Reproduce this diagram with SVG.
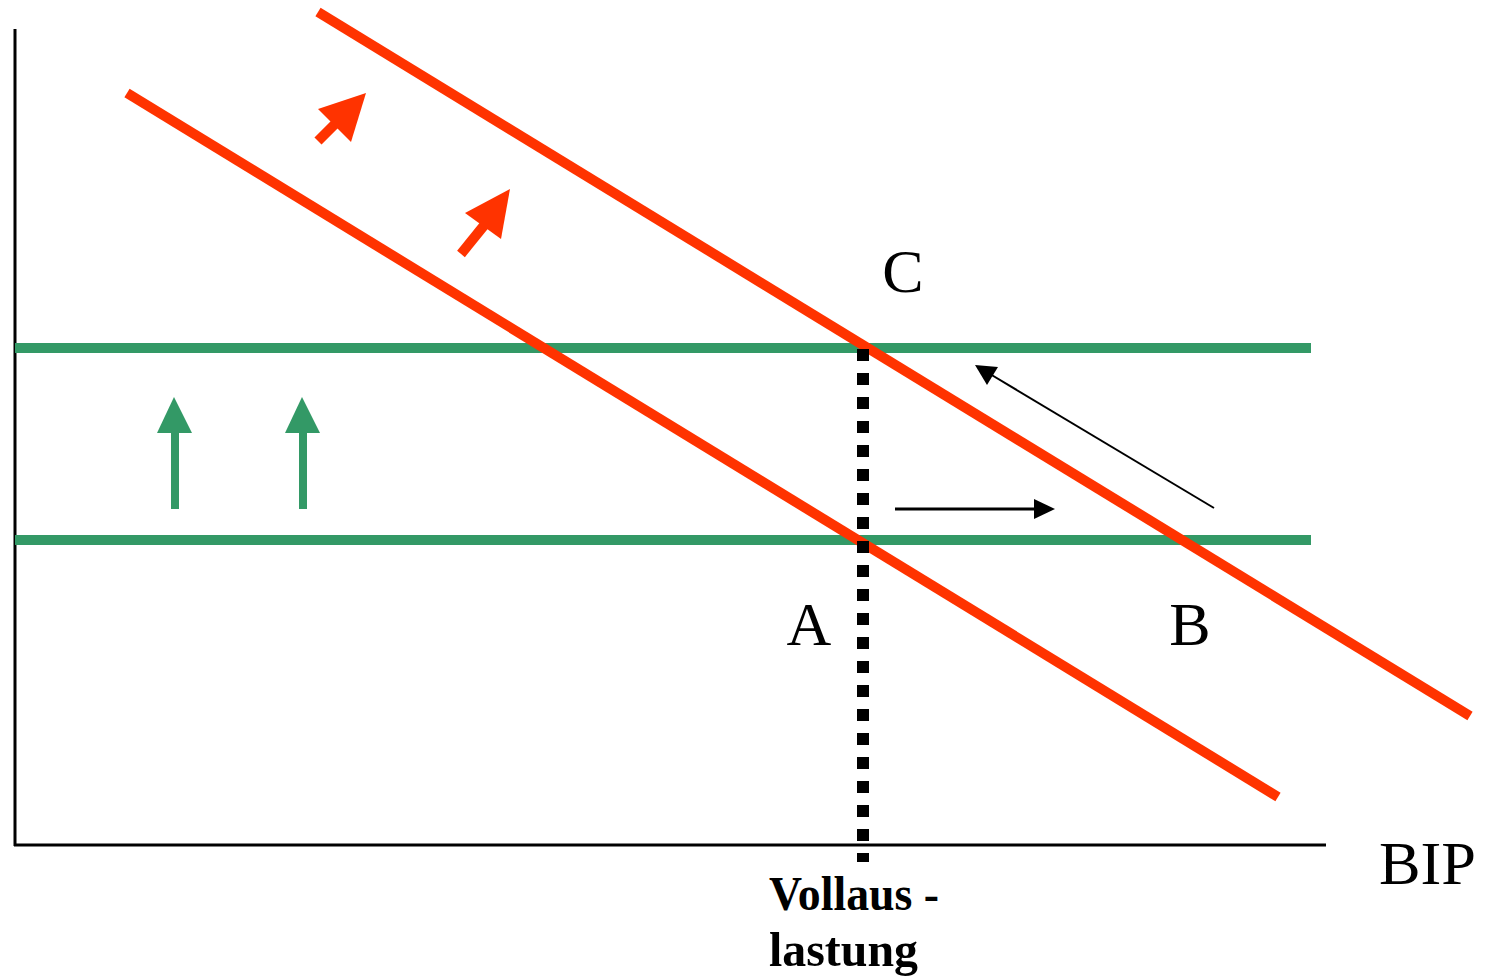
<svg xmlns="http://www.w3.org/2000/svg" width="1492" height="979" viewBox="0 0 1492 979">
<defs>
<style>
.red{stroke:#ff3300;stroke-width:10;fill:none}
.green{stroke:#339966;stroke-width:10;fill:none}
.lbl{font-family:"Liberation Serif",serif;font-size:62px;fill:#000}
.bold{font-family:"Liberation Serif",serif;font-size:49px;font-weight:bold;fill:#000}
</style>
</defs>
<rect width="1492" height="979" fill="#fff"/>
<g id="axes">
<line x1="15" y1="29" x2="15" y2="846" stroke="#000" stroke-width="3"/>
<line x1="14" y1="845" x2="1326" y2="845" stroke="#000" stroke-width="3"/>
</g>
<g id="curves">
<line class="green" x1="15" y1="348" x2="1311" y2="348"/>
<line class="green" x1="15" y1="540" x2="1311" y2="540"/>
<line class="red" x1="318" y1="12" x2="1470" y2="716"/>
<line class="red" x1="127" y1="93" x2="1278" y2="797"/>
<line x1="863" y1="349" x2="863" y2="862" stroke="#000" stroke-width="12" stroke-dasharray="12 12"/>
</g>
<g id="connectors">
<line x1="318" y1="141" x2="343" y2="116" stroke="#ff3300" stroke-width="10"/>
<polygon points="318,109 366,93 351,142" fill="#ff3300"/>
<line x1="461" y1="254" x2="486" y2="223" stroke="#ff3300" stroke-width="10"/>
<polygon points="465,213 510,189 501,239" fill="#ff3300"/>
<line x1="175" y1="509" x2="175" y2="430" stroke="#339966" stroke-width="8"/>
<polygon points="157,433 174,397 192,433" fill="#339966"/>
<line x1="303" y1="509" x2="303" y2="430" stroke="#339966" stroke-width="8"/>
<polygon points="285,433 302,397 320,433" fill="#339966"/>
<line x1="895" y1="509" x2="1036" y2="509" stroke="#000" stroke-width="3"/>
<polygon points="1034,499 1055,509 1034,519" fill="#000"/>
<line x1="1214" y1="508" x2="990" y2="374" stroke="#000" stroke-width="2"/>
<polygon points="975,365 998,367 987,385" fill="#000"/>
</g>
<g id="labels">
<text class="lbl" x="903" y="292" text-anchor="middle">C</text>
<text class="lbl" x="809" y="645" text-anchor="middle">A</text>
<text class="lbl" x="1190" y="645" text-anchor="middle">B</text>
<text class="lbl" x="1379" y="884" textLength="97" lengthAdjust="spacingAndGlyphs">BIP</text>
<text class="bold" x="769" y="910" textLength="170" lengthAdjust="spacingAndGlyphs">Vollaus -</text>
<text class="bold" x="769" y="966" textLength="149" lengthAdjust="spacingAndGlyphs">lastung</text>
</g>
</svg>
